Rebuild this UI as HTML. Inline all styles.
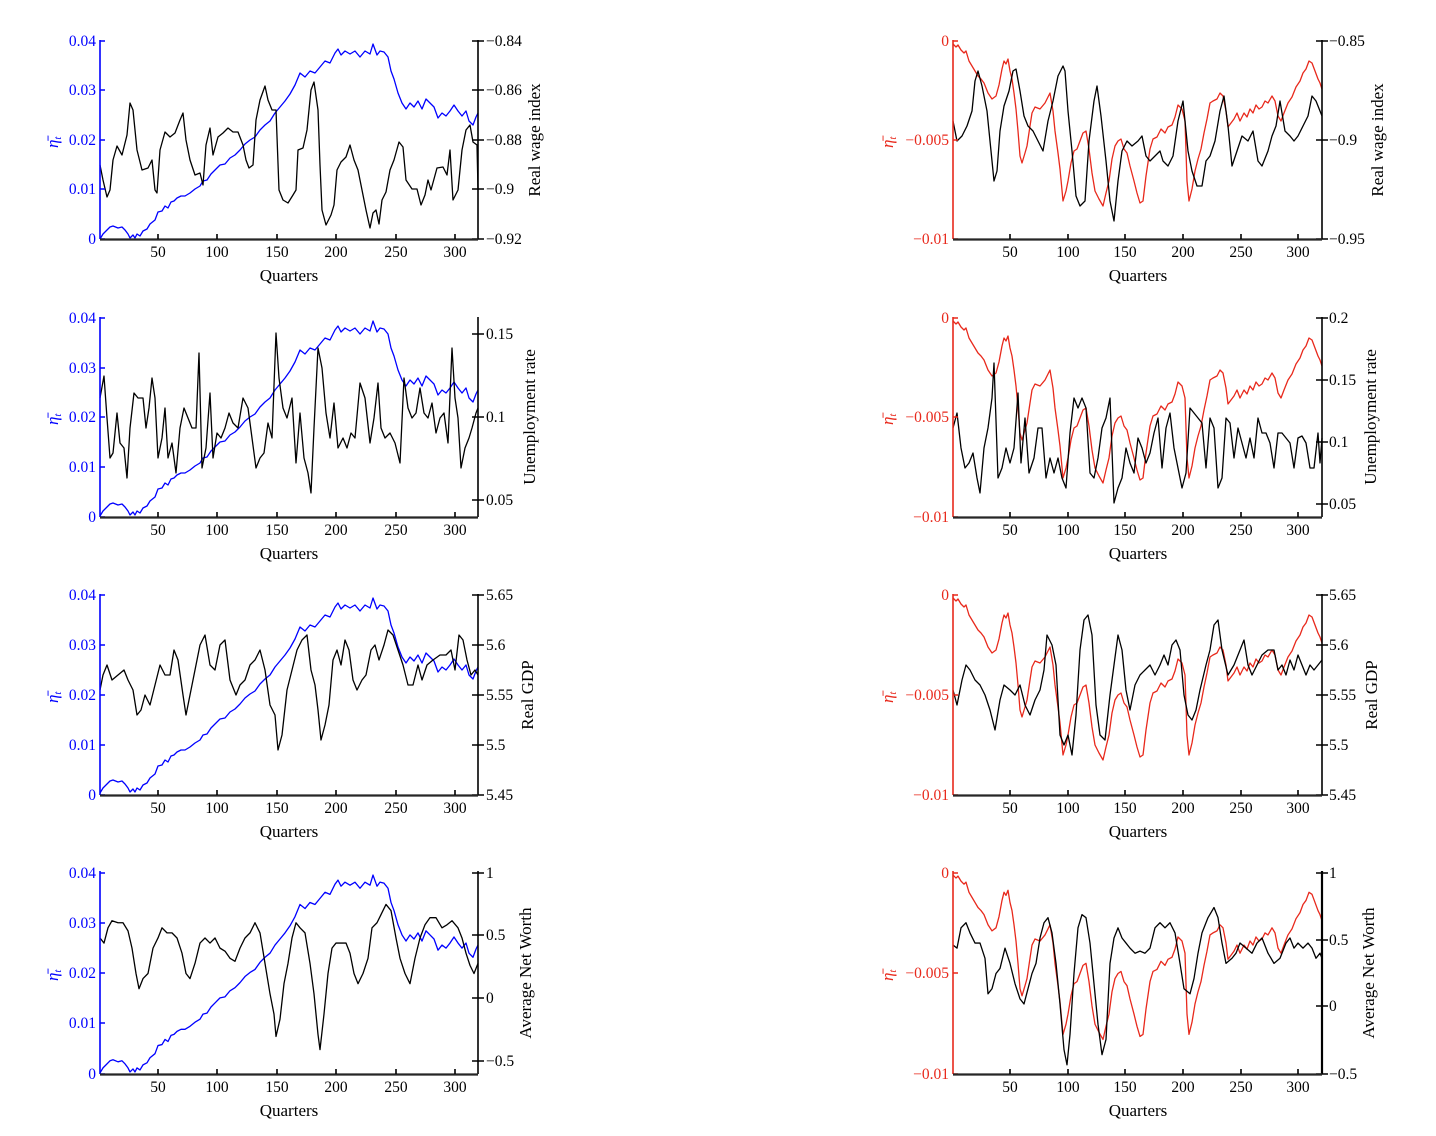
<!DOCTYPE html>
<html><head><meta charset="utf-8"><style>
body{margin:0;background:#fff}
svg{display:block}
text{font-family:"Liberation Serif",serif;font-size:15.5px}
text.L{font-size:17px}
.k{fill:none;stroke:#000;stroke-width:1.3;stroke-linejoin:round}
.b{fill:none;stroke:#0000ff;stroke-width:1.3;stroke-linejoin:round}
.r{fill:none;stroke:#e8291c;stroke-width:1.3;stroke-linejoin:round}
</style></head><body>
<svg width="1436" height="1136" viewBox="0 0 1436 1136" xmlns="http://www.w3.org/2000/svg">
<defs>
<polyline id="blue" class="b" points="100,198 103,193 106,190 110,186 113,185 118,187 122,186 125,189 128,193 130,197 133,194 135,197 137,193 140,195 143,190 147,188 150,183 155,179 158,171 162,170 165,165 168,167 171,161 174,160 177,157 181,155 185,155 190,152 195,148 200,145 203,140 207,139 211,133 215,129 220,124 225,123 230,117 235,114 240,109 245,103 250,99 255,96 260,89 265,84 270,80 275,72 280,66 285,60 290,53 295,44 300,32 305,36 310,30 315,32 320,26 325,20 330,22 335,12 338,8 341,14 345,10 350,13 355,10 360,16 365,10 370,13 373,3 377,14 380,10 384,11 388,16 391,30 394,38 398,52 402,62 406,68 410,62 414,66 418,60 422,68 426,58 430,62 434,66 438,77 442,72 446,75 450,70 454,64 458,70 462,75 466,70 469,80 473,84 476,76 478,72"/>
<polyline id="red" class="r" points="953,3 956,6 958,4 961,9 964,12 966,10 969,20 972,25 975,30 978,35 981,38 984,42 988,52 992,58 996,55 999,44 1002,28 1004,20 1006,23 1008,18 1010,30 1012,38 1014,52 1016,68 1018,90 1020,115 1022,122 1025,112 1027,105 1030,85 1032,72 1035,66 1040,68 1045,62 1050,52 1053,70 1055,90 1058,112 1060,128 1063,160 1066,150 1068,140 1071,122 1074,110 1077,108 1080,100 1083,92 1086,90 1089,108 1092,132 1095,150 1099,158 1103,165 1106,152 1109,140 1112,118 1115,105 1118,100 1121,98 1124,108 1127,112 1130,125 1134,140 1137,152 1140,162 1143,160 1146,135 1150,108 1153,98 1157,96 1161,88 1165,92 1168,86 1172,84 1175,76 1178,64 1182,68 1185,80 1187,140 1189,160 1192,148 1195,130 1198,118 1201,108 1204,92 1207,78 1210,62 1213,60 1217,58 1220,52 1223,55 1226,70 1228,86 1231,82 1234,78 1237,72 1240,80 1244,72 1247,76 1250,68 1253,72 1256,64 1259,68 1262,66 1265,60 1268,62 1272,55 1275,60 1278,75 1281,80 1284,72 1288,62 1292,56 1296,46 1300,40 1303,32 1306,28 1309,20 1312,22 1315,30 1318,38 1320,42 1322,48"/>
</defs>

<g transform="translate(0,41)">
<use href="#blue"/>
<polyline class="k" points="100,124 103,139 107,156 110,149 113,119 117,105 122,114 127,94 130,62 133,69 137,109 142,129 148,127 152,119 155,149 157,152 160,109 165,91 170,96 175,92 180,79 183,72 186,99 190,119 195,134 200,132 203,144 206,104 210,87 213,114 218,96 223,92 228,87 233,91 238,91 243,104 246,119 249,127 253,124 256,79 260,59 265,45 268,59 272,69 276,69 279,149 283,159 288,162 293,154 296,149 298,109 303,107 307,89 311,49 314,41 318,69 320,124 322,169 326,184 331,174 334,164 337,129 341,121 346,116 350,104 354,119 358,129 362,149 366,169 370,187 373,172 376,169 379,183 382,159 386,151 390,129 394,119 399,101 403,106 406,139 412,148 417,148 421,164 425,154 428,139 431,149 437,127 443,126 447,134 450,109 453,159 458,149 462,109 466,89 470,84 473,101 477,104 478,149"/>
</g>
<g transform="translate(0,318)">
<use href="#blue"/>
<polyline class="k" points="100,80 104,58 107,100 110,140 113,135 117,95 120,125 124,130 127,160 130,110 134,75 138,80 143,80 146,110 149,90 152,60 155,80 158,140 162,120 165,90 168,140 172,125 176,155 180,110 184,90 188,100 192,110 196,110 199,35 202,150 206,130 210,75 213,140 217,115 221,120 225,110 229,95 233,105 238,110 243,80 248,90 252,120 256,150 260,140 264,135 268,105 272,120 276,15 279,60 283,90 287,100 292,80 296,145 300,95 304,140 308,155 311,175 314,110 318,30 322,50 326,95 330,120 334,85 338,130 343,120 347,130 351,115 355,120 360,65 365,80 370,125 374,100 378,65 381,110 385,120 390,115 395,125 400,145 404,60 408,90 412,100 416,95 420,70 424,95 428,100 432,85 436,115 440,100 444,95 448,125 452,30 455,80 458,100 461,150 465,130 469,120 472,110 476,95 478,90"/>
</g>
<g transform="translate(0,595)">
<use href="#blue"/>
<polyline class="k" points="100,95 103,80 107,70 112,85 118,80 124,75 128,85 133,95 137,120 141,115 145,100 150,110 155,90 160,70 165,80 170,80 174,55 178,65 183,100 186,120 190,100 195,75 200,50 205,40 210,70 215,75 220,50 225,45 230,85 236,100 240,90 245,85 250,70 255,65 260,55 265,75 270,110 275,120 278,155 282,140 287,95 292,75 297,55 302,45 307,40 311,75 315,90 318,115 321,145 325,130 329,110 333,65 337,55 341,70 345,45 349,55 353,85 357,95 362,85 366,80 371,55 375,50 379,65 384,50 388,35 393,40 398,55 403,70 408,90 413,90 418,70 422,85 427,70 433,65 440,60 446,60 451,55 455,75 459,40 463,45 467,65 471,80 475,75 478,80"/>
</g>
<g transform="translate(0,872) scale(1,1.015)">
<use href="#blue"/>
<polyline class="k" points="100,65 104,70 108,55 112,48 118,50 123,50 128,58 132,75 136,100 139,115 143,105 148,100 153,75 158,65 162,55 167,60 172,60 177,65 182,80 186,100 190,105 195,90 200,70 205,65 210,70 215,65 220,75 225,78 230,85 235,88 240,75 245,65 250,60 255,50 260,60 265,90 270,120 274,140 276,162 280,145 284,110 288,90 292,65 296,50 300,55 305,60 310,90 314,120 318,160 320,175 324,140 328,100 332,75 336,70 341,70 346,70 350,80 354,100 358,110 363,100 368,85 372,55 377,50 382,40 386,32 391,38 396,65 400,85 405,100 410,110 415,85 420,65 425,52 430,45 436,45 442,55 447,52 452,48 458,55 462,65 466,80 470,92 474,100 478,90"/>
</g>

<g transform="translate(0,41)">
<use href="#red"/>
<polyline class="k" points="953,80 957,100 962,95 967,85 972,70 975,40 978,30 982,45 987,70 990,100 994,140 997,130 1000,90 1004,65 1009,50 1013,30 1016,28 1020,50 1024,75 1028,85 1033,90 1038,100 1043,110 1048,80 1053,60 1058,35 1063,25 1065,30 1068,70 1072,110 1076,155 1080,165 1085,160 1089,100 1094,60 1097,45 1101,75 1106,120 1110,160 1114,180 1118,140 1122,110 1127,100 1132,105 1138,100 1142,95 1146,115 1150,120 1155,115 1160,110 1163,120 1168,125 1173,115 1178,80 1183,60 1188,110 1192,130 1197,145 1202,145 1206,120 1210,115 1215,100 1220,70 1224,55 1228,85 1232,125 1237,110 1242,95 1248,100 1253,90 1258,120 1262,125 1268,110 1272,95 1276,85 1280,60 1285,90 1290,95 1294,100 1298,95 1303,85 1308,75 1312,55 1316,60 1320,70 1322,75"/>
</g>
<g transform="translate(0,318)">
<use href="#red"/>
<polyline class="k" points="953,110 957,95 961,130 965,150 969,145 973,135 977,160 980,175 984,130 988,110 992,80 994,45 998,160 1002,150 1006,130 1010,145 1014,130 1018,75 1021,145 1025,100 1029,155 1034,140 1038,110 1042,110 1046,160 1050,140 1054,155 1058,140 1062,160 1066,170 1070,115 1074,80 1078,90 1082,80 1086,90 1090,155 1094,160 1098,140 1102,110 1106,100 1110,80 1114,185 1118,170 1122,160 1126,130 1130,145 1134,155 1138,120 1142,130 1146,145 1150,135 1154,115 1158,100 1162,150 1166,110 1170,95 1174,130 1178,150 1182,170 1186,155 1190,90 1194,95 1198,100 1202,105 1206,150 1210,100 1214,110 1218,170 1222,160 1226,100 1230,105 1234,140 1238,110 1242,125 1246,140 1250,120 1254,140 1258,100 1262,115 1266,115 1270,125 1274,150 1278,115 1282,115 1286,120 1290,125 1294,150 1298,120 1302,118 1306,125 1310,150 1314,150 1318,115 1320,145 1322,120"/>
</g>
<g transform="translate(0,595)">
<use href="#red"/>
<polyline class="k" points="953,95 957,110 962,85 966,70 970,75 975,85 980,90 985,100 990,115 995,135 1000,105 1004,90 1010,95 1015,100 1020,90 1025,110 1030,120 1035,105 1040,95 1044,75 1047,40 1052,50 1056,70 1060,140 1064,150 1068,140 1072,160 1076,120 1080,55 1084,25 1088,20 1092,40 1096,110 1100,140 1105,145 1110,100 1114,70 1118,40 1122,55 1126,95 1130,115 1135,90 1140,80 1145,75 1150,70 1155,80 1160,70 1164,60 1168,70 1172,50 1176,45 1180,55 1184,100 1188,120 1192,125 1196,115 1200,95 1206,70 1210,55 1214,30 1218,25 1222,55 1228,80 1234,70 1240,55 1244,45 1248,70 1252,80 1257,70 1262,60 1268,55 1274,55 1278,75 1282,70 1286,80 1290,65 1294,75 1298,60 1302,70 1306,80 1310,70 1314,75 1318,70 1322,65"/>
</g>
<g transform="translate(0,872) scale(1,1.015)">
<use href="#red"/>
<polyline class="k" points="953,72 957,75 961,55 966,50 970,60 975,70 980,70 985,85 988,120 992,115 996,100 1000,95 1005,75 1010,90 1015,110 1020,125 1024,130 1028,115 1032,100 1036,90 1040,65 1044,50 1048,45 1052,60 1056,90 1060,130 1064,175 1067,190 1070,160 1074,100 1078,55 1082,42 1086,45 1090,70 1094,110 1098,150 1102,180 1106,165 1110,90 1114,65 1118,55 1122,65 1126,70 1130,75 1135,80 1140,78 1145,80 1150,75 1155,55 1160,50 1165,55 1170,50 1175,60 1180,90 1184,115 1190,120 1194,105 1198,80 1202,60 1208,45 1214,35 1218,45 1222,70 1226,90 1232,85 1236,80 1240,70 1246,75 1252,80 1257,70 1262,65 1268,80 1274,90 1280,85 1286,70 1290,65 1294,75 1298,70 1303,75 1308,70 1312,75 1316,85 1320,80 1322,85"/>
</g>

<g stroke-width="1.6" fill="none">
<path d="M100,40V239" stroke="#0000ff"/><path d="M100,41h5M100,90h5M100,140h5M100,189h5M100,239h5" stroke="#0000ff"/>
<path d="M478,40V239" stroke="#000"/><path d="M472,41h12M472,90h12M472,140h12M472,189h12M472,239h12" stroke="#000"/>
<path d="M100,239.5H478" stroke="#262626" stroke-width="2.2"/>
<path d="M158,239v-5M217,239v-5M277,239v-5M336,239v-5M396,239v-5M455,239v-5" stroke="#000"/>
<path d="M100,317V517" stroke="#0000ff"/><path d="M100,318h5M100,368h5M100,417h5M100,467h5M100,517h5" stroke="#0000ff"/>
<path d="M478,317V517" stroke="#000"/><path d="M472,334h12M472,417h12M472,500h12" stroke="#000"/>
<path d="M100,517.5H478" stroke="#262626" stroke-width="2.2"/>
<path d="M158,517v-5M217,517v-5M277,517v-5M336,517v-5M396,517v-5M455,517v-5" stroke="#000"/>
<path d="M100,594V795" stroke="#0000ff"/><path d="M100,595h5M100,645h5M100,695h5M100,745h5M100,795h5" stroke="#0000ff"/>
<path d="M478,594V795" stroke="#000"/><path d="M472,595h12M472,645h12M472,695h12M472,745h12M472,795h12" stroke="#000"/>
<path d="M100,795.5H478" stroke="#262626" stroke-width="2.2"/>
<path d="M158,795v-5M217,795v-5M277,795v-5M336,795v-5M396,795v-5M455,795v-5" stroke="#000"/>
<path d="M100,871V1074" stroke="#0000ff"/><path d="M100,873h5M100,923h5M100,973h5M100,1023h5M100,1074h5" stroke="#0000ff"/>
<path d="M478,871V1074" stroke="#000"/><path d="M472,873h12M472,935h12M472,998h12M472,1061h12" stroke="#000"/>
<path d="M100,1074.5H478" stroke="#262626" stroke-width="2.2"/>
<path d="M158,1074v-5M217,1074v-5M277,1074v-5M336,1074v-5M396,1074v-5M455,1074v-5" stroke="#000"/>

<path d="M953,40V239" stroke="#e8291c"/><path d="M953,41h5M953,140h5M953,239h5" stroke="#e8291c"/>
<path d="M1322,40V239" stroke="#000"/><path d="M1316,41h12M1316,140h12M1316,239h12" stroke="#000"/>
<path d="M953,239.5H1322" stroke="#262626" stroke-width="2.2"/>
<path d="M1010,239v-5M1068,239v-5M1125,239v-5M1183,239v-5M1241,239v-5M1298,239v-5" stroke="#000"/>
<path d="M953,317V517" stroke="#e8291c"/><path d="M953,318h5M953,417h5M953,517h5" stroke="#e8291c"/>
<path d="M1322,317V517" stroke="#000"/><path d="M1316,318h12M1316,380h12M1316,442h12M1316,504h12" stroke="#000"/>
<path d="M953,517.5H1322" stroke="#262626" stroke-width="2.2"/>
<path d="M1010,517v-5M1068,517v-5M1125,517v-5M1183,517v-5M1241,517v-5M1298,517v-5" stroke="#000"/>
<path d="M953,594V795" stroke="#e8291c"/><path d="M953,595h5M953,695h5M953,795h5" stroke="#e8291c"/>
<path d="M1322,594V795" stroke="#000"/><path d="M1316,595h12M1316,645h12M1316,695h12M1316,745h12M1316,795h12" stroke="#000"/>
<path d="M953,795.5H1322" stroke="#262626" stroke-width="2.2"/>
<path d="M1010,795v-5M1068,795v-5M1125,795v-5M1183,795v-5M1241,795v-5M1298,795v-5" stroke="#000"/>
<path d="M953,871V1074" stroke="#e8291c"/><path d="M953,873h5M953,973h5M953,1074h5" stroke="#e8291c"/>
<path d="M1322,871V1074" stroke="#000" stroke-width="2.2"/><path d="M1316,873h12M1316,940h12M1316,1006h12M1316,1074h12" stroke="#000"/>
<path d="M953,1074.5H1322" stroke="#262626" stroke-width="2.2"/>
<path d="M1010,1074v-5M1068,1074v-5M1125,1074v-5M1183,1074v-5M1241,1074v-5M1298,1074v-5" stroke="#000"/>
</g>

<g fill="#0000ff" text-anchor="end">
<text x="96" y="46">0.04</text><text x="96" y="95">0.03</text><text x="96" y="145">0.02</text><text x="96" y="194">0.01</text><text x="96" y="244">0</text>
<text x="96" y="323">0.04</text><text x="96" y="373">0.03</text><text x="96" y="422">0.02</text><text x="96" y="472">0.01</text><text x="96" y="522">0</text>
<text x="96" y="600">0.04</text><text x="96" y="650">0.03</text><text x="96" y="700">0.02</text><text x="96" y="750">0.01</text><text x="96" y="800">0</text>
<text x="96" y="878">0.04</text><text x="96" y="928">0.03</text><text x="96" y="978">0.02</text><text x="96" y="1028">0.01</text><text x="96" y="1079">0</text>
</g>
<g fill="#e8291c" text-anchor="end">
<text x="949" y="46">0</text><text x="949" y="145">−0.005</text><text x="949" y="244">−0.01</text>
<text x="949" y="323">0</text><text x="949" y="422">−0.005</text><text x="949" y="522">−0.01</text>
<text x="949" y="600">0</text><text x="949" y="700">−0.005</text><text x="949" y="800">−0.01</text>
<text x="949" y="878">0</text><text x="949" y="978">−0.005</text><text x="949" y="1079">−0.01</text>
</g>
<g font-style="italic">
<text class="L" transform="translate(58,148) rotate(-90)" fill="#0000ff">η̄<tspan font-size="11" dy="3">t</tspan></text>
<text class="L" transform="translate(58,425) rotate(-90)" fill="#0000ff">η̄<tspan font-size="11" dy="3">t</tspan></text>
<text class="L" transform="translate(58,703) rotate(-90)" fill="#0000ff">η̄<tspan font-size="11" dy="3">t</tspan></text>
<text class="L" transform="translate(58,981) rotate(-90)" fill="#0000ff">η̄<tspan font-size="11" dy="3">t</tspan></text>
<text class="L" transform="translate(893,148) rotate(-90)" fill="#e8291c">η̄<tspan font-size="11" dy="3">t</tspan></text>
<text class="L" transform="translate(893,425) rotate(-90)" fill="#e8291c">η̄<tspan font-size="11" dy="3">t</tspan></text>
<text class="L" transform="translate(893,703) rotate(-90)" fill="#e8291c">η̄<tspan font-size="11" dy="3">t</tspan></text>
<text class="L" transform="translate(893,981) rotate(-90)" fill="#e8291c">η̄<tspan font-size="11" dy="3">t</tspan></text>
</g>
<g fill="#000">
<text x="486" y="46">−0.84</text><text x="486" y="95">−0.86</text><text x="486" y="145">−0.88</text><text x="486" y="194">−0.9</text><text x="486" y="244">−0.92</text>
<text x="486" y="339">0.15</text><text x="486" y="422">0.1</text><text x="486" y="505">0.05</text>
<text x="486" y="600">5.65</text><text x="486" y="650">5.6</text><text x="486" y="700">5.55</text><text x="486" y="750">5.5</text><text x="486" y="800">5.45</text>
<text x="486" y="878">1</text><text x="486" y="940">0.5</text><text x="486" y="1003">0</text><text x="486" y="1066">−0.5</text>
<text x="1329" y="46">−0.85</text><text x="1329" y="145">−0.9</text><text x="1329" y="244">−0.95</text>
<text x="1329" y="323">0.2</text><text x="1329" y="385">0.15</text><text x="1329" y="447">0.1</text><text x="1329" y="509">0.05</text>
<text x="1329" y="600">5.65</text><text x="1329" y="650">5.6</text><text x="1329" y="700">5.55</text><text x="1329" y="750">5.5</text><text x="1329" y="800">5.45</text>
<text x="1329" y="878">1</text><text x="1329" y="945">0.5</text><text x="1329" y="1011">0</text><text x="1329" y="1079">−0.5</text>
</g>
<g fill="#000" text-anchor="middle">
<text class="L" transform="translate(540,140) rotate(-90)">Real wage index</text>
<text class="L" transform="translate(535,417) rotate(-90)">Unemployment rate</text>
<text class="L" transform="translate(533,695) rotate(-90)">Real GDP</text>
<text class="L" transform="translate(531,973) rotate(-90)">Average Net Worth</text>
<text class="L" transform="translate(1383,140) rotate(-90)">Real wage index</text>
<text class="L" transform="translate(1376,417) rotate(-90)">Unemployment rate</text>
<text class="L" transform="translate(1377,695) rotate(-90)">Real GDP</text>
<text class="L" transform="translate(1374,973) rotate(-90)">Average Net Worth</text>
<text class="L" x="289" y="281">Quarters</text><text class="L" x="289" y="559">Quarters</text><text class="L" x="289" y="837">Quarters</text><text class="L" x="289" y="1116">Quarters</text>
<text class="L" x="1138" y="281">Quarters</text><text class="L" x="1138" y="559">Quarters</text><text class="L" x="1138" y="837">Quarters</text><text class="L" x="1138" y="1116">Quarters</text>
</g>
<g fill="#000" text-anchor="middle">
<text x="158" y="257">50</text><text x="217" y="257">100</text><text x="277" y="257">150</text><text x="336" y="257">200</text><text x="396" y="257">250</text><text x="455" y="257">300</text>
<text x="158" y="535">50</text><text x="217" y="535">100</text><text x="277" y="535">150</text><text x="336" y="535">200</text><text x="396" y="535">250</text><text x="455" y="535">300</text>
<text x="158" y="813">50</text><text x="217" y="813">100</text><text x="277" y="813">150</text><text x="336" y="813">200</text><text x="396" y="813">250</text><text x="455" y="813">300</text>
<text x="158" y="1092">50</text><text x="217" y="1092">100</text><text x="277" y="1092">150</text><text x="336" y="1092">200</text><text x="396" y="1092">250</text><text x="455" y="1092">300</text>
<text x="1010" y="257">50</text><text x="1068" y="257">100</text><text x="1125" y="257">150</text><text x="1183" y="257">200</text><text x="1241" y="257">250</text><text x="1298" y="257">300</text>
<text x="1010" y="535">50</text><text x="1068" y="535">100</text><text x="1125" y="535">150</text><text x="1183" y="535">200</text><text x="1241" y="535">250</text><text x="1298" y="535">300</text>
<text x="1010" y="813">50</text><text x="1068" y="813">100</text><text x="1125" y="813">150</text><text x="1183" y="813">200</text><text x="1241" y="813">250</text><text x="1298" y="813">300</text>
<text x="1010" y="1092">50</text><text x="1068" y="1092">100</text><text x="1125" y="1092">150</text><text x="1183" y="1092">200</text><text x="1241" y="1092">250</text><text x="1298" y="1092">300</text>
</g>
</svg>
</body></html>
